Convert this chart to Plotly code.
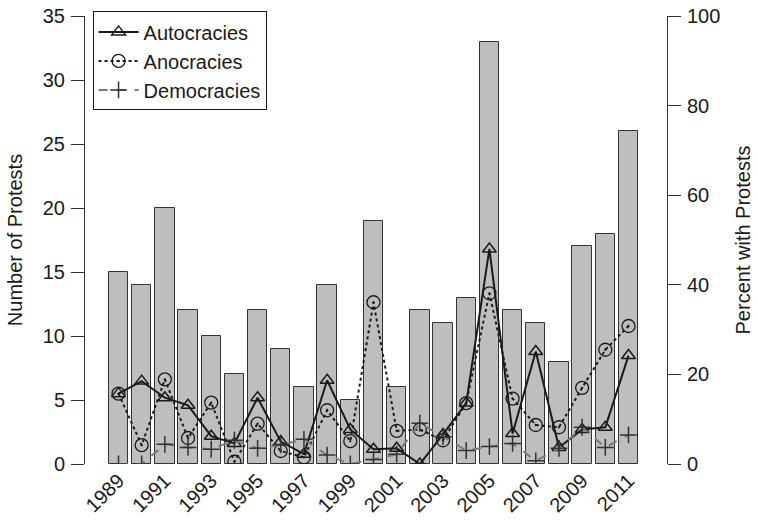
import plotly.graph_objects as go

years = list(range(1989, 2012))
protests = [15, 14, 20, 12, 10, 7, 12, 9, 6, 14, 5, 19, 6, 12, 11, 13, 33, 12, 11, 8, 17, 18, 26]
autocracies = [15.7, 18.5, 14.8, 13.1, 6.2, 4.6, 14.8, 5.0, 2.2, 18.7, 7.7, 3.3, 3.5, 0.0,
               6.6, 13.6, 48.0, 6.8, 25.1, 3.7, 7.7, 8.2, 24.2]
anocracies = [15.7, 4.2, 18.9, 5.8, 13.7, 0.5, 9.0, 2.9, 1.5, 12.0, 5.1, 36.1, 7.4, 7.7,
              5.3, 13.6, 38.1, 14.6, 8.7, 8.2, 17.0, 25.5, 30.8]
democracies = [0.0, 0.0, 4.4, 3.7, 3.3, 5.3, 3.5, 4.3, 5.5, 2.0, 0.0, 1.0, 2.2, 9.1,
               6.1, 3.0, 3.9, 4.6, 0.7, 3.5, 8.2, 3.7, 6.5]
tick_years = list(range(1989, 2012, 2))

FONT = "Liberation Sans, Arial, sans-serif"

fig = go.Figure()
fig.add_trace(go.Bar(
    x=years, y=protests, width=0.833,
    marker=dict(color="#bebebe", line=dict(color="#333333", width=1)),
    showlegend=False, yaxis="y",
))
fig.add_trace(go.Scatter(
    x=years, y=autocracies, name="Autocracies", mode="lines+markers", yaxis="y2",
    line=dict(color="#1a1a1a", width=2),
    marker=dict(symbol="triangle-up-open", size=12, color="#1a1a1a", line=dict(width=1.5)),
))
fig.add_trace(go.Scatter(
    x=years, y=anocracies, name="Anocracies", mode="lines+markers", yaxis="y2",
    line=dict(color="#1a1a1a", width=2, dash="dot"),
    marker=dict(symbol="circle-dot", size=13, color="rgba(0,0,0,0)",
                line=dict(width=1.3, color="#1a1a1a")),
))
fig.add_trace(go.Scatter(
    x=years, y=democracies, name="Democracies", mode="lines+markers", yaxis="y2",
    line=dict(color="#7a7a7a", width=2, dash="dash"),
    marker=dict(symbol="cross-thin-open", size=12, color="#333333", line=dict(width=1.5, color="#333333")),
))

fig.update_layout(
    width=758, height=526,
    margin=dict(l=85, r=91, t=15, b=62),
    paper_bgcolor="white", plot_bgcolor="white",
    font=dict(family=FONT, size=20, color="#1a1a1a"),
    bargap=0,
    xaxis=dict(
        range=[1987.555, 2012.661], tickmode="array", tickvals=tick_years,
        ticktext=[str(y) for y in tick_years], tickangle=-45,
        showgrid=False, zeroline=False, showline=False, ticks="",
        tickfont=dict(size=20), automargin=False,
    ),
    yaxis=dict(
        range=[0, 35], tickvals=[0, 5, 10, 15, 20, 25, 30, 35],
        showgrid=False, zeroline=False, showline=True, linecolor="#333333", linewidth=1,
        ticks="outside", ticklen=13, tickcolor="#333333", ticklabelstandoff=2,
        automargin=False,
        title=dict(text="Number of Protests", font=dict(size=20), standoff=14),
    ),
    yaxis2=dict(
        range=[0, 100], tickvals=[0, 20, 40, 60, 80, 100], overlaying="y", side="right",
        showgrid=False, zeroline=False, showline=True, linecolor="#333333", linewidth=1,
        ticks="outside", ticklen=13, tickcolor="#333333", ticklabelstandoff=2,
        automargin=False,
        title=dict(text="Percent with Protests", font=dict(size=20), standoff=16),
    ),
    legend=dict(
        x=0.013, y=1.008, xanchor="left", yanchor="top",
        bgcolor="white", bordercolor="#1a1a1a", borderwidth=1,
        font=dict(size=20), itemwidth=40, tracegroupgap=0,
        entrywidth=130, entrywidthmode="pixels",
    ),
)

fig.write_html(
    "out.html",
    config={"displayModeBar": False},
    post_script="document.body.style.margin='0';document.body.style.overflow='hidden';",
)
